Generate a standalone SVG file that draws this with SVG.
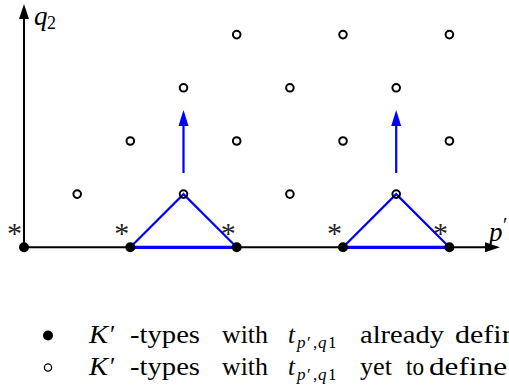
<svg xmlns="http://www.w3.org/2000/svg" width="509" height="390" viewBox="0 0 509 390">
<defs>
<style>
.ax{stroke:#000;stroke-width:2;fill:none}
.bl{stroke:#0000ff;stroke-width:2.2;fill:none;stroke-linejoin:miter}
.base{stroke:#0000ff;stroke-width:3.2;fill:none}
.open{fill:#fff;stroke:#000;stroke-width:2}
.full{fill:#000}
.t{font-family:"Liberation Serif","DejaVu Serif",serif;fill:#000}
.i{font-style:italic}
.star{font-family:"Liberation Serif","DejaVu Serif",serif;font-size:30px;text-anchor:middle;fill:#222}
</style>
<marker id="ahk" markerUnits="userSpaceOnUse" markerWidth="16" markerHeight="12" viewBox="0 -6 16 12" refX="0" refY="0" orient="auto">
<path d="M0,-5 L15,0 L0,5 Z" fill="#000"/>
</marker>
<marker id="ahb" markerUnits="userSpaceOnUse" markerWidth="16" markerHeight="12" viewBox="0 -6 16 12" refX="0" refY="0" orient="auto">
<path d="M0,-5 L16,0 L0,5 Z" fill="#0000ff"/>
</marker>
</defs>
<rect width="509" height="390" fill="#fff"/>

<g id="connectors">
<line class="ax" x1="24" y1="247.3" x2="24" y2="19" marker-end="url(#ahk)"/>
<line class="ax" x1="24" y1="247.3" x2="485" y2="247.3" marker-end="url(#ahk)"/>
<polyline class="bl" points="130.3,247.3 183.5,194.1 236.7,247.3"/>
<line class="base" x1="130.3" y1="247.3" x2="236.7" y2="247.3"/>
<polyline class="bl" points="343,247.3 396.2,194.1 449.4,247.3"/>
<line class="base" x1="343" y1="247.3" x2="449.4" y2="247.3"/>
<line class="bl" x1="183.5" y1="173" x2="183.5" y2="126" marker-end="url(#ahb)"/>
<line class="bl" x1="396.2" y1="173" x2="396.2" y2="126" marker-end="url(#ahb)"/>
</g>

<g id="open-nodes">
<circle class="open" cx="77.2" cy="194.1" r="3.8"/>
<circle class="open" cx="289.9" cy="194.1" r="3.8"/>
<circle class="open" cx="130.3" cy="141" r="3.8"/>
<circle class="open" cx="236.7" cy="141" r="3.8"/>
<circle class="open" cx="343" cy="141" r="3.8"/>
<circle class="open" cx="449.4" cy="141" r="3.8"/>
<circle class="open" cx="183.5" cy="87.8" r="3.8"/>
<circle class="open" cx="289.9" cy="87.8" r="3.8"/>
<circle class="open" cx="396.2" cy="87.8" r="3.8"/>
<circle class="open" cx="236.7" cy="34.6" r="3.8"/>
<circle class="open" cx="343" cy="34.6" r="3.8"/>
<circle class="open" cx="449.4" cy="34.6" r="3.8"/>
</g>
<g id="apex-nodes">
<circle class="open" cx="183.5" cy="194.1" r="3.8" style="fill:none"/>
<circle class="open" cx="396.2" cy="194.1" r="3.8" style="fill:none"/>
</g>

<g id="filled-nodes">
<g id="n0"><circle class="full" cx="24" cy="247.3" r="5"/><text class="star" x="14.5" y="243">*</text></g>
<g id="n2"><circle class="full" cx="130.3" cy="247.3" r="5"/><text class="star" x="121.8" y="243">*</text></g>
<g id="n4"><circle class="full" cx="236.7" cy="247.3" r="5"/><text class="star" x="228.2" y="243">*</text></g>
<g id="n6"><circle class="full" cx="343" cy="247.3" r="5"/><text class="star" x="334.6" y="243">*</text></g>
<g id="n8"><circle class="full" cx="449.4" cy="247.3" r="5"/><text class="star" x="440.5" y="243">*</text></g>
</g>

<g id="axis-labels">
<text class="t i" x="34" y="25" font-size="27">q</text>
<text class="t" x="47" y="29" font-size="18">2</text>
<text class="t i" x="489" y="241" font-size="27">p</text>
<text class="t" x="503" y="232" font-size="20">′</text>
</g>

<g id="legend">
<circle class="full" cx="48" cy="335.5" r="5"/>
<g class="t" font-size="25">
<text class="i" x="89" y="343" textLength="19" lengthAdjust="spacingAndGlyphs">K</text>
<text x="110" y="343">′</text>
<text x="130" y="343" textLength="70" lengthAdjust="spacingAndGlyphs">-types</text>
<text x="222" y="343" textLength="46" lengthAdjust="spacingAndGlyphs">with</text>
<text class="i" x="288" y="343">t</text>
<text x="360" y="343" textLength="84" lengthAdjust="spacingAndGlyphs">already</text>
<text x="455" y="343" textLength="90" lengthAdjust="spacingAndGlyphs">defined</text>
</g>
<text class="t" font-size="17" y="347.5"><tspan class="i" x="297">p</tspan><tspan x="307">′</tspan><tspan x="313">,</tspan><tspan class="i" x="318">q</tspan><tspan x="328">1</tspan></text>
<circle cx="48" cy="367.5" r="3.6" fill="none" stroke="#000" stroke-width="1.3"/>
<g class="t" font-size="25">
<text class="i" x="89" y="375" textLength="19" lengthAdjust="spacingAndGlyphs">K</text>
<text x="110" y="375">′</text>
<text x="130" y="375" textLength="70" lengthAdjust="spacingAndGlyphs">-types</text>
<text x="222" y="375" textLength="46" lengthAdjust="spacingAndGlyphs">with</text>
<text class="i" x="288" y="375">t</text>
<text x="360" y="375" textLength="32" lengthAdjust="spacingAndGlyphs">yet</text>
<text x="406" y="375" textLength="18" lengthAdjust="spacingAndGlyphs">to</text>
<text x="429" y="375" textLength="78" lengthAdjust="spacingAndGlyphs">define</text>
</g>
<text class="t" font-size="17" y="379.5"><tspan class="i" x="297">p</tspan><tspan x="307">′</tspan><tspan x="313">,</tspan><tspan class="i" x="318">q</tspan><tspan x="328">1</tspan></text>
</g>
</svg>
